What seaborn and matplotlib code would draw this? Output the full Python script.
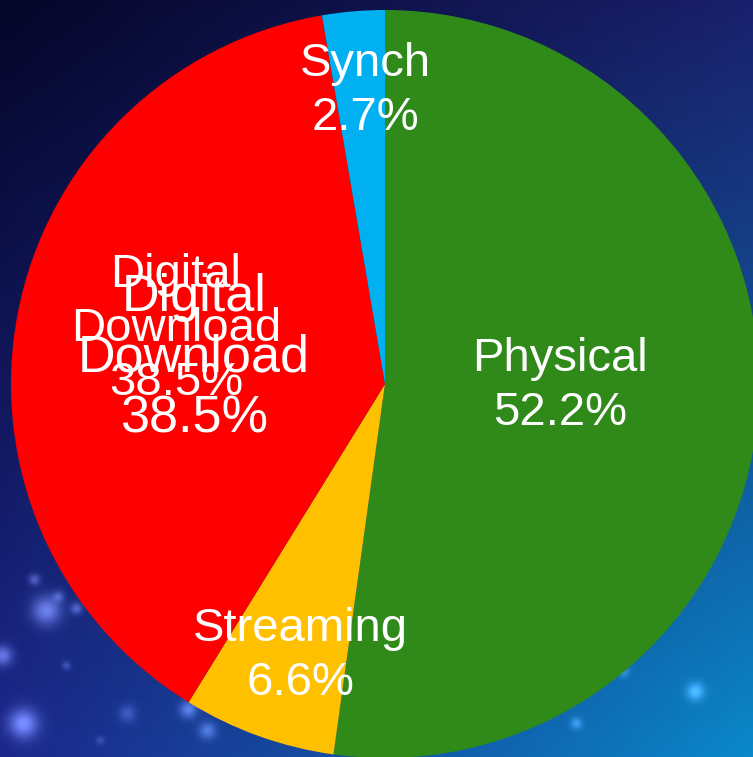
import numpy as np
import matplotlib
matplotlib.use("Agg")
import matplotlib.pyplot as plt
import seaborn as sns

# Revenue share by source
categories = ["Physical", "Streaming", "Digital\nDownload", "Synch"]
shares = [52.2, 6.6, 38.5, 2.7]
pct_labels = ["52.2%", "6.6%", "38.5%", "2.7%"]

sns.set_theme(style="white")
plt.rcParams["font.family"] = ["Liberation Sans", "DejaVu Sans"]

colors = sns.color_palette(["#2F8A1A", "#FFC000", "#FF0000", "#00B0F0"])

W, H = 753, 757
fig = plt.figure(figsize=(W / 100, H / 100), dpi=100)

# ---- night-sky backdrop -------------------------------------------------
bg = fig.add_axes([0, 0, 1, 1], zorder=0)
yy, xx = np.mgrid[0:H, 0:W]
u = xx / (W - 1)
v = yy / (H - 1)
tl = np.array([5, 5, 40]) / 255
tr = np.array([26, 32, 108]) / 255
bl = np.array([28, 40, 140]) / 255
br = np.array([10, 124, 186]) / 255
img = ((1 - u)[..., None] * (1 - v)[..., None] * tl
       + u[..., None] * (1 - v)[..., None] * tr
       + (1 - u)[..., None] * v[..., None] * bl
       + u[..., None] * v[..., None] * br)
# extra brightening toward the lower right corner
d = np.hypot(1 - u, 1 - v)
img += (np.clip(1 - d / 0.9, 0, 1) ** 2)[..., None] * np.array([0, 0.05, 0.06])

stars = [(46, 610, 10, 0.45), (34, 579, 4, 0.3), (58, 596, 4, 0.25), (76, 608, 4, 0.3),
         (2, 655, 7, 0.4), (23, 723, 10, 0.5), (127, 713, 6, 0.2), (188, 709, 6, 0.35),
         (207, 730, 6, 0.3), (695, 691, 6, 0.35), (623, 671, 4, 0.2), (576, 723, 4, 0.25),
         (66, 665, 3, 0.2), (100, 740, 3, 0.15)]
for sx, sy, sr, sa in stars:
    g = np.exp(-((xx - sx) ** 2 + (yy - sy) ** 2) / (2 * sr ** 2)) * sa
    img += g[..., None] * np.array([0.75, 0.8, 1.0])
img = np.clip(img, 0, 1)
bg.imshow(img, extent=[0, W, H, 0], aspect="auto", interpolation="bilinear")
bg.set_xlim(0, W)
bg.set_ylim(H, 0)
bg.axis("off")

# ---- pie ----------------------------------------------------------------
cx, cy, R = 385, 384, 374
ax = fig.add_axes([(cx - R) / W, (H - cy - R) / H, 2 * R / W, 2 * R / H], zorder=1)
ax.patch.set_alpha(0)
wedges, _ = ax.pie(shares, colors=colors, startangle=90, counterclock=False,
                   radius=1.0, wedgeprops=dict(linewidth=0), frame=False)
ax.set_xlim(-1, 1)
ax.set_ylim(-1, 1)
ax.set_aspect("auto")
ax.axis("off")

# label radius (fraction of R) and angular nudge per slice
label_r = [0.468, 0.762, 0.578, 0.785]
label_dtheta = [3.4, 2.5, -3.7, -1.0]
text_kw = dict(color="white", ha="center", va="center", linespacing=1.3)

for w, name, pct, r, dt in zip(wedges, categories, pct_labels, label_r, label_dtheta):
    mid = np.deg2rad((w.theta1 + w.theta2) / 2 + dt)
    ax.text(r * np.cos(mid), r * np.sin(mid), f"{name}\n{pct}", fontsize=34, **text_kw)

# second, larger copy of the Digital Download label
w = wedges[2]
mid = np.deg2rad((w.theta1 + w.theta2) / 2 + 3.3)
ax.text(0.516 * np.cos(mid), 0.516 * np.sin(mid), f"{categories[2]}\n{pct_labels[2]}",
        fontsize=37.5, **text_kw)

fig.savefig("out.png", dpi=100)
